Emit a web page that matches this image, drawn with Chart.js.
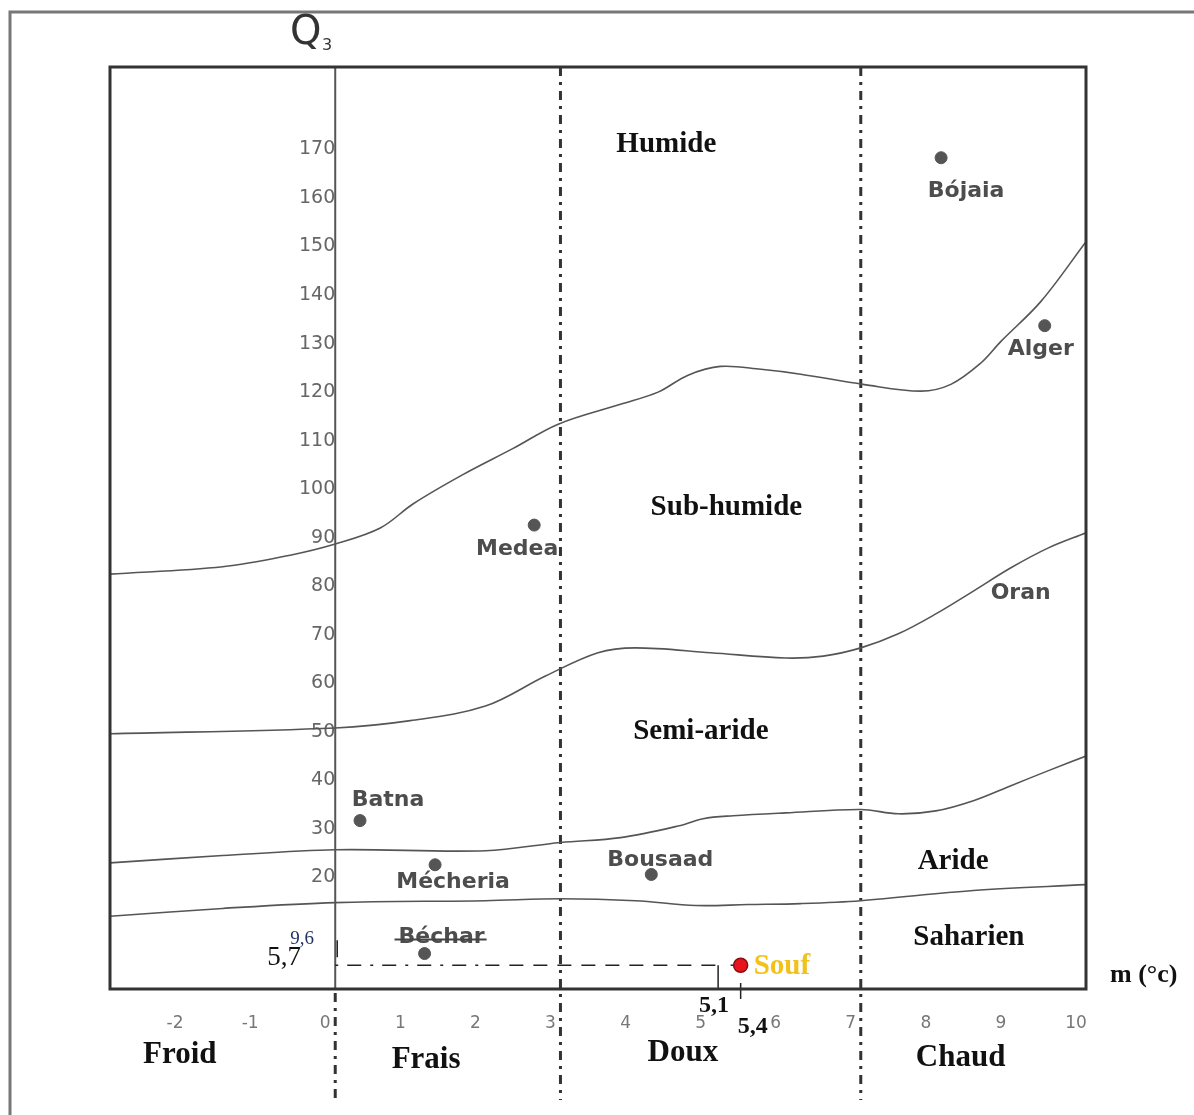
<!DOCTYPE html>
<html>
<head>
<meta charset="utf-8">
<script src="https://cdn.jsdelivr.net/npm/chart.js@4.4.1/dist/chart.umd.min.js"></script>
<style>
  body { margin: 0; background: #fff; }
  #wrap { width: 1194px; height: 1115px; }
</style>
</head>
<body>
<div id="wrap"><canvas id="climagramme" width="1194" height="1115"></canvas></div>
<script>
// axes
const xTicks = [-2, -1, 0, 1, 2, 3, 4, 5, 6, 7, 8, 9, 10];
const yTicks = [20, 30, 40, 50, 60, 70, 80, 90, 100, 110, 120, 130, 140, 150, 160, 170];

// limites des etages bioclimatiques (m, Q3)
const limHumideX = [-3, -1.5, -0.6, 0, 0.6, 1.04, 1.7, 2.37, 2.97, 3.8, 4.3, 4.7, 5.13, 5.67, 6.2, 7.03, 7.8, 8.2, 8.6, 8.87, 9.4, 10];
const limHumideY = [82.5, 84, 86.4, 88.7, 92, 97, 103, 108.4, 113.4, 117.5, 120, 123.5, 125.3, 124.7, 123.7, 121.6, 120.2, 121.6, 126, 130.5, 138.7, 151];
const limSubX = [-3, 0, 1, 2, 2.8, 3.5, 4, 5, 6, 6.5, 7, 7.5, 8, 8.5, 9, 9.5, 10];
const limSubY = [49.6, 50.8, 52.3, 55.3, 61.5, 66.3, 67.3, 66.3, 65.2, 65.6, 67.3, 70.2, 74.3, 79, 83.8, 87.9, 91];
const limSemiX = [-3, -1.5, 0, 2, 3, 3.8, 4.6, 4.9, 5.3, 6, 7, 7.5, 8, 8.5, 9, 9.5, 10];
const limSemiY = [23, 24.5, 25.7, 25.5, 27.2, 28.2, 30.7, 32.1, 32.7, 33.3, 34, 33.1, 33.7, 35.8, 38.9, 42, 45];
const limArideX = [-3, -1.5, 0, 2, 3, 4, 4.8, 5.5, 6.2, 7, 8.5, 10];
const limArideY = [12, 13.6, 14.8, 15.2, 15.6, 15.2, 14.2, 14.4, 14.6, 15.2, 17.3, 18.5];

// stations
const stations = ['Bójaia', 'Alger', 'Medea', 'Batna', 'Mécheria', 'Bousaad', 'Béchar'];
const stationM = [8.07, 9.45, 2.65, 0.33, 1.33, 4.21, 1.19];
const stationQ3 = [168.3, 133.7, 92.6, 31.7, 22.6, 20.6, 4.3];
const soufM = 5.4;
const soufQ3 = 1.9;

// etages, zones thermiques
const zoneNames = ['Humide', 'Sub-humide', 'Semi-aride', 'Aride', 'Saharien'];
const zoneM = [4.41, 5.21, 4.87, 8.23, 8.44];
const zoneQ3 = [171, 96.3, 50, 23.3, 7.6];
const hiverNames = ['Froid', 'Frais', 'Doux', 'Chaud'];
const hiverM = [-2.07, 1.21, 4.63, 8.33];
const hiverLimits = [3, 7];

// label offsets in px (style only)
const labelDx = [25, -4, -17, 28, 18, 9, 17];
const labelDy = [34, 24, 24, -20, 18, -14, -16];

function pts(xs, ys) { return xs.map((x, i) => ({x: x, y: ys[i]})); }

function limite(xs, ys) {
  return {
    type: 'line', data: pts(xs, ys), borderColor: '#555', borderWidth: 1.6,
    pointRadius: 0, tension: 0.35, fill: false
  };
}

const overlay = {
  id: 'overlay',
  beforeDatasetsDraw(chart) {
    const ctx = chart.ctx, a = chart.chartArea;
    const xs = chart.scales.x, ys = chart.scales.y;
    ctx.save();
    // outer frame
    ctx.strokeStyle = '#777'; ctx.lineWidth = 3;
    ctx.beginPath(); ctx.moveTo(10, 1115); ctx.lineTo(10, 12); ctx.lineTo(1194, 12); ctx.stroke();
    // axe m = 0
    const x0 = xs.getPixelForValue(0);
    ctx.strokeStyle = '#555'; ctx.lineWidth = 2;
    ctx.beginPath(); ctx.moveTo(x0, a.top); ctx.lineTo(x0, a.bottom); ctx.stroke();
    ctx.strokeStyle = '#333'; ctx.lineWidth = 3; ctx.setLineDash([9, 6, 3, 6]);
    ctx.beginPath(); ctx.moveTo(x0, a.bottom + 4); ctx.lineTo(x0, 1098); ctx.stroke();
    // limites hiver
    hiverLimits.forEach(v => {
      const px = xs.getPixelForValue(v);
      ctx.beginPath(); ctx.moveTo(px, a.top); ctx.lineTo(px, 1100); ctx.stroke();
    });
    ctx.setLineDash([]);
    // Souf guides
    const sx = xs.getPixelForValue(soufM), sy = ys.getPixelForValue(soufQ3);
    const x51 = xs.getPixelForValue(5.1);
    ctx.strokeStyle = '#222'; ctx.lineWidth = 1.5;
    ctx.setLineDash([3, 9, 14, 9]);
    ctx.beginPath(); ctx.moveTo(x0, sy); ctx.lineTo(xs.getPixelForValue(2), sy); ctx.stroke();
    ctx.setLineDash([14, 10]);
    ctx.beginPath(); ctx.moveTo(xs.getPixelForValue(2), sy); ctx.lineTo(x51, sy); ctx.stroke();
    ctx.beginPath(); ctx.moveTo(sx - 10, sy); ctx.lineTo(sx, sy); ctx.stroke();
    ctx.setLineDash([]);
    ctx.beginPath(); ctx.moveTo(x51, sy); ctx.lineTo(x51, a.bottom); ctx.stroke();
    ctx.beginPath(); ctx.moveTo(sx, a.bottom - 6); ctx.lineTo(sx, a.bottom + 10); ctx.stroke();
    ctx.beginPath(); ctx.moveTo(x0 + 2, sy - 25); ctx.lineTo(x0 + 2, sy - 8); ctx.stroke();
    ctx.restore();
  },
  afterDatasetsDraw(chart) {
    const ctx = chart.ctx, a = chart.chartArea;
    const xs = chart.scales.x, ys = chart.scales.y;
    ctx.save();
    // plot frame
    ctx.strokeStyle = '#333'; ctx.lineWidth = 3;
    ctx.strokeRect(a.left, a.top, a.right - a.left, a.bottom - a.top);
    ctx.textAlign = 'center'; ctx.textBaseline = 'middle';
    // stations
    ctx.fillStyle = '#4d4d4d';
    ctx.font = 'bold 22px "DejaVu Sans"';
    stations.forEach((n, i) => {
      const px = xs.getPixelForValue(stationM[i]) + labelDx[i];
      const py = ys.getPixelForValue(stationQ3[i]) + labelDy[i];
      ctx.fillText(n, px, py);
      if (n === 'Béchar') {
        const w = ctx.measureText(n).width;
        ctx.strokeStyle = '#444'; ctx.lineWidth = 2;
        ctx.beginPath(); ctx.moveTo(px - w / 2 - 4, py + 2); ctx.lineTo(px + w / 2 + 2, py + 2); ctx.stroke();
      }
    });
    ctx.fillText('Oran', xs.getPixelForValue(9.13), ys.getPixelForValue(78.6));
    // etages
    ctx.fillStyle = '#111';
    ctx.font = 'bold 29px "Liberation Serif"';
    zoneNames.forEach((n, i) => ctx.fillText(n, xs.getPixelForValue(zoneM[i]), ys.getPixelForValue(zoneQ3[i])));
    ctx.font = 'bold 31px "Liberation Serif"';
    const hy = [1055, 1060, 1053, 1058];
    hiverNames.forEach((n, i) => ctx.fillText(n, xs.getPixelForValue(hiverM[i]), hy[i]));
    // Souf
    const sx = xs.getPixelForValue(soufM), sy = ys.getPixelForValue(soufQ3);
    ctx.textAlign = 'left';
    ctx.fillStyle = '#f2c21b';
    ctx.font = 'bold 29px "Liberation Serif"';
    ctx.fillText('Souf', sx + 13, sy + 1);
    ctx.fillStyle = '#111';
    ctx.font = 'bold 24px "Liberation Serif"';
    ctx.textAlign = 'center';
    ctx.fillText('5,1', xs.getPixelForValue(5.1) - 4, a.bottom + 17);
    ctx.fillText('5,4', sx + 12, a.bottom + 38);
    ctx.font = '27px "Liberation Serif"';
    ctx.fillText('5,7', 284, sy - 7);
    ctx.fillStyle = '#223366';
    ctx.font = '19px "Liberation Serif"';
    ctx.fillText('9,6', 302, sy - 26);
    // axis names
    ctx.fillStyle = '#111';
    ctx.font = 'bold 26px "Liberation Serif"';
    ctx.textAlign = 'left';
    ctx.fillText('m (°c)', 1110, 975);
    ctx.fillStyle = '#333';
    ctx.font = '40px "DejaVu Sans"';
    ctx.fillText('Q', 290, 34);
    ctx.font = '16px "DejaVu Sans"';
    ctx.fillText('3', 322, 46);
    ctx.restore();
  }
};

new Chart(document.getElementById('climagramme'), {
  type: 'scatter',
  data: {
    datasets: [
      limite(limHumideX, limHumideY),
      limite(limSubX, limSubY),
      limite(limSemiX, limSemiY),
      limite(limArideX, limArideY),
      {
        data: pts(stationM, stationQ3),
        backgroundColor: '#555', borderColor: '#555', pointRadius: 6, pointHoverRadius: 6
      },
      {
        data: [{x: soufM, y: soufQ3}],
        backgroundColor: '#e8141b', borderColor: '#8a0c10', borderWidth: 1.5, pointRadius: 7
      }
    ]
  },
  options: {
    responsive: false,
    animation: false,
    layout: { padding: { left: 110, right: 108, top: 67, bottom: 86 } },
    plugins: { legend: { display: false }, tooltip: { enabled: false } },
    scales: {
      x: {
        type: 'linear', min: -3, max: 10,
        afterBuildTicks: s => { s.ticks = xTicks.map(v => ({value: v})); },
        afterFit: s => { s.height = 40; },
        grid: { display: false, drawTicks: false },
        border: { display: false },
        ticks: { color: '#777', font: { family: 'DejaVu Sans', size: 17 }, padding: 24, labelOffset: -10 }
      },
      y: {
        type: 'linear', min: -3, max: 187,
        position: { x: 0 },
        afterBuildTicks: s => { s.ticks = yTicks.map(v => ({value: v})); },
        grid: { display: false, drawTicks: false },
        border: { display: false },
        ticks: { color: '#666', font: { family: 'DejaVu Sans', size: 19 }, padding: 4 }
      }
    }
  },
  plugins: [overlay]
});
</script>
</body>
</html>
